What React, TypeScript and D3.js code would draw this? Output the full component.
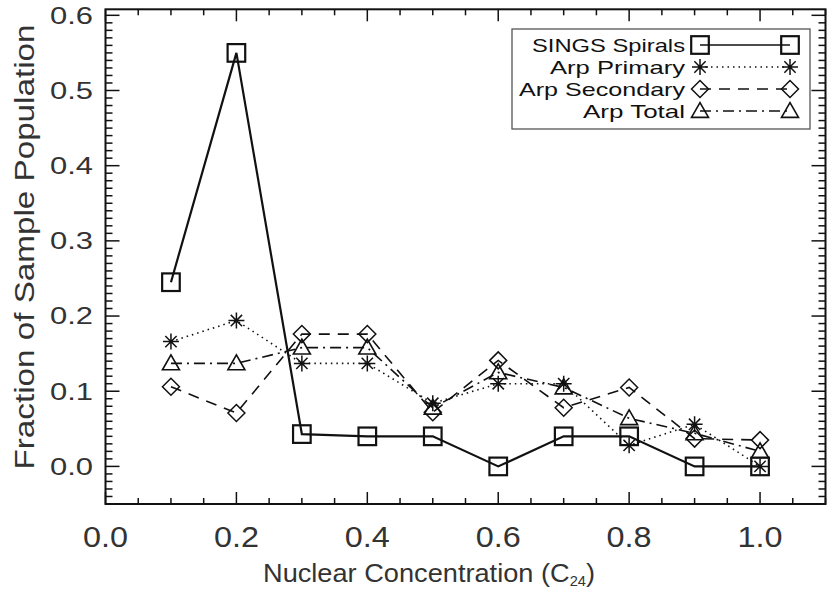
import React from "react";
import * as d3 from "d3";

const xValues = [0.1, 0.2, 0.3, 0.4, 0.5, 0.6, 0.7, 0.8, 0.9, 1.0];
const singsSpirals = [0.245, 0.55, 0.043, 0.04, 0.04, 0.0, 0.04, 0.04, 0.0, 0.0];
const arpPrimary = [0.166, 0.194, 0.137, 0.137, 0.084, 0.11, 0.11, 0.028, 0.056, 0.0];
const arpSecondary = [0.106, 0.071, 0.176, 0.176, 0.072, 0.141, 0.078, 0.105, 0.037, 0.035];
const arpTotal = [0.137, 0.137, 0.158, 0.158, 0.078, 0.125, 0.105, 0.064, 0.044, 0.02];

const seriesNames = ["SINGS Spirals", "Arp Primary", "Arp Secondary", "Arp Total"];
const legendTextWidths = [153, 135, 166, 102];
const xTickLabels = ["0.0", "0.2", "0.4", "0.6", "0.8", "1.0"];
const yTickLabels = ["0.0", "0.1", "0.2", "0.3", "0.4", "0.5", "0.6"];

const W = 830, H = 593;
const L = 105.5, R = 825.5, T = 9.3, B = 504;
const FONT = "'Liberation Sans', Arial, sans-serif";

type Sym = "square" | "asterisk" | "diamond" | "triangle";

function Marker({ x, y, sym }: { x: number; y: number; sym: Sym }) {
  const s = { fill: "none", stroke: "#111", strokeWidth: 1.8 } as const;
  if (sym === "square") {
    const h = 8.8;
    return <rect x={x - h} y={y - h} width={2 * h} height={2 * h} {...s} strokeWidth={2.2} />;
  }
  if (sym === "diamond") {
    const h = 8.5;
    return <path d={`M${x - h},${y}L${x},${y - h}L${x + h},${y}L${x},${y + h}Z`} {...s} strokeWidth={1.5} />;
  }
  if (sym === "triangle") {
    const h = 8.5;
    return <path d={`M${x - h},${y + h * 0.75}L${x + h},${y + h * 0.75}L${x},${y - h * 1.0}Z`} {...s} strokeWidth={1.6} />;
  }
  const r = 8;
  const d = [0, 45, 90, 135]
    .map((a) => {
      const rad = (a * Math.PI) / 180;
      const dx = r * Math.cos(rad), dy = r * Math.sin(rad);
      return `M${x - dx},${y - dy}L${x + dx},${y + dy}`;
    })
    .join("");
  return <path d={d} {...s} strokeWidth={1.5} />;
}

export default function App() {
  const x = d3.scaleLinear().domain([0, 1.1]).range([L, R]);
  const y = d3.scaleLinear().domain([-0.05, 0.608]).range([B, T]);

  const series: { name: string; values: number[]; sym: Sym; dash: string; width: number }[] = [
    { name: seriesNames[0], values: singsSpirals, sym: "square", dash: "", width: 2.2 },
    { name: seriesNames[1], values: arpPrimary, sym: "asterisk", dash: "1.5,4", width: 1.6 },
    { name: seriesNames[2], values: arpSecondary, sym: "diamond", dash: "11,8", width: 1.6 },
    { name: seriesNames[3], values: arpTotal, sym: "triangle", dash: "11,5,2,5", width: 1.6 },
  ];

  const line = d3
    .line<[number, number]>()
    .x((d) => x(d[0]))
    .y((d) => y(d[1]));

  const xMinor = d3.range(0, 1.1001, 0.05);
  const yMinor = d3.range(-0.05, 0.6001, 0.01);

  const ticks: React.ReactNode[] = [];
  xMinor.forEach((v, i) => {
    const major = Math.abs((v / 0.2) - Math.round(v / 0.2)) < 1e-6;
    const len = major ? 12 : 6;
    const px = x(v);
    ticks.push(<line key={`xb${i}`} x1={px} x2={px} y1={B} y2={B - len} stroke="#111" strokeWidth={1.5} />);
    ticks.push(<line key={`xt${i}`} x1={px} x2={px} y1={T} y2={T + len} stroke="#111" strokeWidth={1.5} />);
  });
  yMinor.forEach((v, i) => {
    const major = Math.abs((v / 0.1) - Math.round(v / 0.1)) < 1e-6;
    const len = major ? 14 : 7;
    const py = y(v);
    ticks.push(<line key={`yl${i}`} x1={L} x2={L + len} y1={py} y2={py} stroke="#111" strokeWidth={1.5} />);
    ticks.push(<line key={`yr${i}`} x1={R} x2={R - len} y1={py} y2={py} stroke="#111" strokeWidth={1.5} />);
  });

  const legendRows = [45, 67, 89, 111];
  const lx0 = 700, lx1 = 790;

  return (
    <svg
      width={W}
      height={H}
      viewBox={`0 0 ${W} ${H}`}
      style={{ position: "absolute", left: 0, top: 0, background: "#fff" }}
      fontFamily={FONT}
    >
      <rect x={0} y={0} width={W} height={H} fill="#fff" />
      {series.map((s) => (
        <path
          key={s.name}
          d={line(xValues.map((v, i) => [v, s.values[i]]) as [number, number][]) || ""}
          fill="none"
          stroke="#111"
          strokeWidth={s.width}
          strokeDasharray={s.dash || undefined}
        />
      ))}
      {series.map((s) =>
        xValues.map((v, i) => <Marker key={`${s.name}${i}`} x={x(v)} y={y(s.values[i])} sym={s.sym} />)
      )}
      {ticks}
      <rect x={L} y={T} width={R - L} height={B - T} fill="none" stroke="#111" strokeWidth={2} />
      {yTickLabels.map((t) => (
        <text
          key={`yt${t}`}
          x={93}
          y={y(+t) + 8.3}
          textAnchor="end"
          fontSize={23.5}
          fill="#333"
          textLength={43}
          lengthAdjust="spacingAndGlyphs"
        >
          {t}
        </text>
      ))}
      {xTickLabels.map((t) => (
        <text
          key={`xt${t}`}
          x={x(+t)}
          y={546.5}
          textAnchor="middle"
          fontSize={29}
          fill="#333"
          textLength={45}
          lengthAdjust="spacingAndGlyphs"
        >
          {t}
        </text>
      ))}
      <text x={263} y={582} fontSize={26} fill="#333" textLength={332} lengthAdjust="spacingAndGlyphs">
        Nuclear Concentration (C<tspan fontSize={14} dy={4}>24</tspan>
        <tspan dy={-4}>)</tspan>
      </text>
      <text
        transform={`translate(34,247) rotate(-90)`}
        textAnchor="middle"
        fontSize={27}
        fill="#333"
        textLength={445}
        lengthAdjust="spacingAndGlyphs"
      >
        Fraction of Sample Population
      </text>
      <rect x={512} y={29} width={298} height={100} fill="#fff" stroke="#555" strokeWidth={1.3} />
      {series.map((s, i) => (
        <g key={`lg${i}`}>
          <text
            x={685}
            y={legendRows[i] + 7}
            textAnchor="end"
            fontSize={19}
            fill="#111"
            textLength={legendTextWidths[i]}
            lengthAdjust="spacingAndGlyphs"
          >
            {s.name}
          </text>
          <line
            x1={lx0}
            x2={lx1}
            y1={legendRows[i]}
            y2={legendRows[i]}
            stroke="#111"
            strokeWidth={s.width > 2 ? 1.6 : 1.4}
            strokeDasharray={s.dash || undefined}
          />
          <Marker x={lx0} y={legendRows[i]} sym={s.sym} />
          <Marker x={lx1} y={legendRows[i]} sym={s.sym} />
        </g>
      ))}
    </svg>
  );
}
